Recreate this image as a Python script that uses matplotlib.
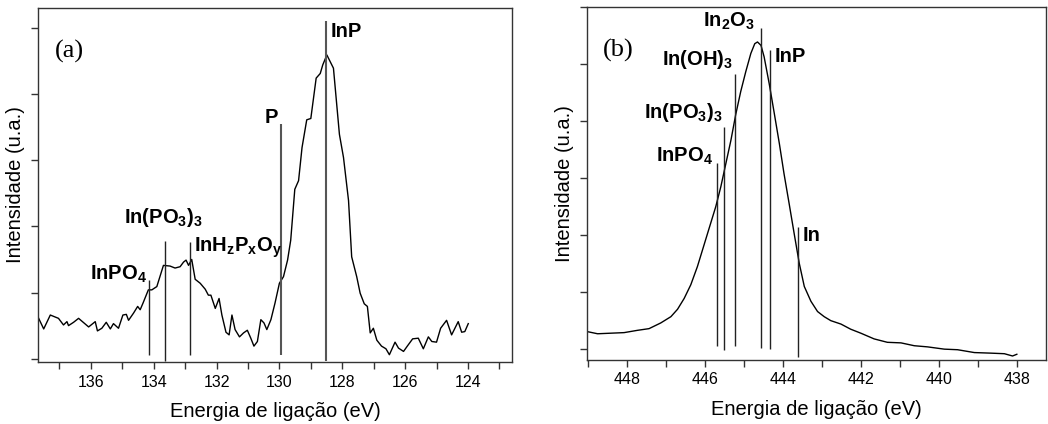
import matplotlib
matplotlib.use("Agg")
import matplotlib.pyplot as plt
from matplotlib.ticker import MultipleLocator

plt.rcParams['font.family'] = ['Liberation Sans', 'DejaVu Sans']
plt.rcParams['mathtext.fontset'] = 'custom'
plt.rcParams['mathtext.rm'] = 'Liberation Sans:bold'
plt.rcParams['mathtext.it'] = 'Liberation Sans:bold'
plt.rcParams['mathtext.bf'] = 'Liberation Sans:bold'
plt.rcParams['mathtext.default'] = 'rm'

# ---- panel (a): P 2p region ----
energy_a = [137.66, 137.50, 137.29, 137.03, 136.87, 136.76, 136.71, 136.55, 136.39, 136.07,
            135.86, 135.79, 135.65, 135.51, 135.38, 135.28, 135.12, 134.98, 134.87, 134.80,
            134.64, 134.51, 134.43, 134.34, 134.17, 134.06, 133.90, 133.69, 133.48, 133.32,
            133.16, 133.05, 132.97, 132.89, 132.79, 132.68, 132.52, 132.36, 132.26, 132.18,
            132.04, 131.92, 131.83, 131.70, 131.60, 131.51, 131.41, 131.27, 131.14, 131.02,
            130.91, 130.81, 130.70, 130.59, 130.49, 130.40, 130.27, 130.14, 130.00, 129.87,
            129.74, 129.64, 129.51, 129.39, 129.28, 129.13, 129.00, 128.83, 128.70, 128.62,
            128.49, 128.28, 128.09, 127.96, 127.80, 127.70, 127.54, 127.43, 127.30, 127.20,
            127.11, 127.01, 126.90, 126.75, 126.61, 126.50, 126.32, 126.21, 126.05, 125.93,
            125.76, 125.58, 125.42, 125.26, 125.15, 125.00, 124.87, 124.68, 124.52, 124.31,
            124.20, 124.10, 123.99]
intens_a = [0.61, 0.45, 0.66, 0.61, 0.51, 0.56, 0.50, 0.55, 0.61, 0.48,
            0.56, 0.42, 0.46, 0.55, 0.45, 0.53, 0.46, 0.66, 0.67, 0.58,
            0.69, 0.79, 0.74, 0.84, 1.04, 1.04, 1.09, 1.41, 1.40, 1.37,
            1.39, 1.46, 1.49, 1.41, 1.50, 1.20, 1.14, 1.05, 0.96, 0.96,
            0.76, 0.91, 0.66, 0.40, 0.36, 0.66, 0.44, 0.33, 0.39, 0.43,
            0.31, 0.19, 0.26, 0.59, 0.54, 0.44, 0.59, 0.84, 1.14, 1.24,
            1.49, 1.79, 2.56, 2.69, 3.19, 3.61, 3.63, 4.24, 4.31, 4.44,
            4.59, 4.39, 3.39, 3.04, 2.39, 1.54, 1.24, 0.99, 0.83, 0.79,
            0.39, 0.46, 0.28, 0.19, 0.15, 0.06, 0.25, 0.16, 0.11, 0.19,
            0.30, 0.31, 0.15, 0.33, 0.26, 0.25, 0.46, 0.58, 0.36, 0.56,
            0.40, 0.41, 0.53]

peaks_a_x = [134.14, 133.64, 132.84, 129.95, 128.51]
peaks_a_bottom = [0.06, -0.04, 0.05, 0.05, -0.04]
peaks_a_top = [1.19, 1.78, 1.76, 3.54, 5.10]
labels_a = ['InPO$_4$', 'In(PO$_3$)$_3$', 'InH$_z$P$_x$O$_y$', 'P', 'InP']

# ---- panel (b): In 3d5/2 region ----
energy_b = [449.03, 448.75, 448.41, 448.07, 447.73, 447.43, 447.13, 446.87, 446.70, 446.53,
            446.36, 446.19, 446.02, 445.85, 445.72, 445.59, 445.46, 445.33, 445.21, 445.08,
            444.95, 444.82, 444.72, 444.65, 444.56, 444.48, 444.35, 444.22, 444.09, 443.97,
            443.84, 443.71, 443.58, 443.45, 443.28, 443.11, 442.94, 442.77, 442.51, 442.26,
            442.00, 441.66, 441.32, 440.97, 440.63, 440.29, 439.86, 439.52, 439.09, 438.67,
            438.32, 438.11, 438.00]
intens_b = [0.31, 0.27, 0.28, 0.29, 0.33, 0.36, 0.46, 0.57, 0.70, 0.89,
            1.13, 1.45, 1.83, 2.21, 2.50, 2.85, 3.26, 3.67, 4.11, 4.52,
            4.87, 5.19, 5.36, 5.39, 5.33, 5.13, 4.66, 4.14, 3.61, 3.08,
            2.56, 2.03, 1.51, 1.10, 0.84, 0.66, 0.57, 0.50, 0.44, 0.35,
            0.28, 0.18, 0.12, 0.11, 0.06, 0.04, 0.00, -0.01, -0.06, -0.07,
            -0.08, -0.12, -0.09]

peaks_b_x = [445.70, 445.50, 445.23, 444.56, 444.33, 443.61]
peaks_b_bottom = [0.05, -0.02, 0.06, 0.02, 0.00, -0.14]
peaks_b_top = [3.26, 3.90, 4.82, 5.64, 5.25, 2.15]
labels_b = ['InPO$_4$', 'In(PO$_3$)$_3$', 'In(OH)$_3$', 'In$_2$O$_3$', 'InP', 'In']

fig = plt.figure(figsize=(10.48, 4.24), dpi=100)
ax1 = fig.add_axes([0.0363, 0.1462, 0.4522, 0.835])
ax2 = fig.add_axes([0.5598, 0.151, 0.438, 0.832])

lbl = dict(fontsize=14.5, fontweight='bold', va='baseline')

# panel a
ax1.plot(energy_a, intens_a, color='black', lw=1.0)
ax1.vlines(peaks_a_x[:3], peaks_a_bottom[:3], peaks_a_top[:3], color='#222222', lw=1.0)
ax1.vlines(peaks_a_x[3:], peaks_a_bottom[3:], peaks_a_top[3:], color='#555555', lw=1.5)
ax1.text(134.22, 1.19, labels_a[0], ha='right', **lbl)
ax1.text(133.69, 2.05, labels_a[1], ha='center', **lbl)
ax1.text(132.73, 1.61, labels_a[2], ha='left', **lbl)
ax1.text(130.03, 3.56, labels_a[3], ha='right', **lbl)
ax1.text(128.36, 4.86, labels_a[4], ha='left', **lbl)
ax1.text(0.036, 0.86, '(a)', transform=ax1.transAxes, fontsize=19,
         family='Liberation Serif', va='baseline')
ax1.set_xlim(137.68, 122.6)
ax1.set_ylim(-0.05, 5.3)

# panel b
ax2.plot(energy_b, intens_b, color='black', lw=1.0)
ax2.vlines(peaks_b_x, peaks_b_bottom, peaks_b_top, color='#222222', lw=1.0)
ax2.text(445.80, 3.29, labels_b[0], ha='right', **lbl)
ax2.text(445.55, 4.05, labels_b[1], ha='right', **lbl)
ax2.text(445.27, 4.98, labels_b[2], ha='right', **lbl)
ax2.text(444.72, 5.65, labels_b[3], ha='right', **lbl)
ax2.text(444.22, 5.04, labels_b[4], ha='left', **lbl)
ax2.text(443.50, 1.89, labels_b[5], ha='left', **lbl)
ax2.text(0.036, 0.86, '(b)', transform=ax2.transAxes, fontsize=19,
         family='Liberation Serif', va='baseline')
ax2.set_xlim(449.03, 437.26)
ax2.set_ylim(-0.19, 6.0)

for ax in (ax1, ax2):
    ax.xaxis.set_major_locator(MultipleLocator(2))
    ax.xaxis.set_minor_locator(MultipleLocator(1))
    ax.yaxis.set_major_locator(MultipleLocator(1))
    ax.tick_params(axis='both', which='both', direction='out', length=5, width=1.0, color='#333333')
    ax.tick_params(axis='x', labelsize=11.5, pad=4)
    ax.tick_params(axis='y', labelleft=False)
    for s in ax.spines.values():
        s.set_linewidth(1.0)
        s.set_color('#333333')
    ax.set_xlabel('Energia de ligação (eV)', fontsize=14.5, labelpad=9)
    ax.set_ylabel('Intensidade (u.a.)', fontsize=14.5)

ax1.yaxis.set_label_coords(-0.027, 0.5)
ax2.yaxis.set_label_coords(-0.028, 0.5)

plt.savefig("out.png", dpi=100)
